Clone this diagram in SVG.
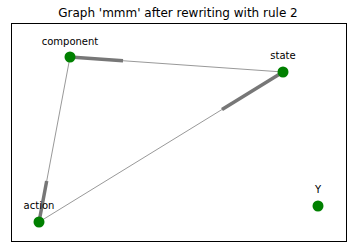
<svg xmlns="http://www.w3.org/2000/svg" width="356" height="251" viewBox="0 0 356 251">
  <style>
    text { font-family: "DejaVu Sans", sans-serif; fill: #000; }
    .title { font-size: 12px; text-anchor: middle; }
    .label { font-size: 10px; text-anchor: middle; }
    .edge { stroke: #999; stroke-width: 1; fill: none; }
    .head { stroke: #777; stroke-width: 3.5; stroke-linecap: butt; }
    .node { fill: #008000; }
  </style>
  <rect x="0" y="0" width="356" height="251" fill="#fff"/>
  <text class="title" x="178" y="17">Graph 'mmm' after rewriting with rule 2</text>
  <rect x="11.5" y="23.5" width="335" height="218" fill="none" stroke="#000" stroke-width="1"/>
  <g id="connectors">
    <!-- state -> component -->
    <line class="edge" x1="283" y1="72" x2="70" y2="57"/>
    <line class="head" x1="123" y1="60.7" x2="70" y2="57"/>
    <!-- component -> action -->
    <line class="edge" x1="70" y1="57" x2="39" y2="222"/>
    <line class="head" x1="46.7" y1="181" x2="39" y2="222"/>
    <!-- action -> state -->
    <line class="edge" x1="39" y1="222" x2="283" y2="72"/>
    <line class="head" x1="222" y1="109.5" x2="283" y2="72"/>
  </g>
  <g id="component">
    <circle class="node" cx="70" cy="57" r="5.5"/>
    <text class="label" x="70" y="45">component</text>
  </g>
  <g id="state">
    <circle class="node" cx="283" cy="72" r="5.5"/>
    <text class="label" x="283" y="59">state</text>
  </g>
  <g id="action">
    <circle class="node" cx="39" cy="222" r="5.5"/>
    <text class="label" x="39" y="209">action</text>
  </g>
  <g id="Y">
    <circle class="node" cx="318" cy="206" r="5.5"/>
    <text class="label" x="318" y="193">Y</text>
  </g>
</svg>
